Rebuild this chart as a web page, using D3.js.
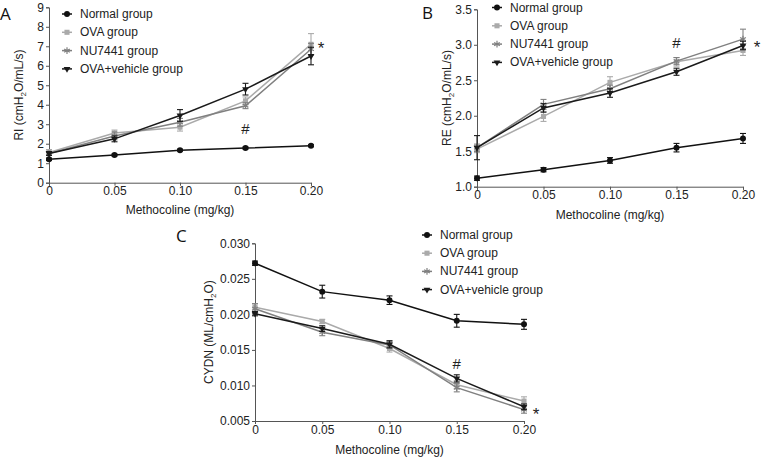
<!DOCTYPE html>
<html>
<head>
<meta charset="utf-8">
<script src="https://cdn.jsdelivr.net/npm/d3@7"></script>
<style>
body { margin: 0; background: #fff; }
text { font-family: "Liberation Sans", Arial, sans-serif; }
</style>
</head>
<body>
<script>
var width = 761, height = 457;
var doses = [0, 0.05, 0.10, 0.15, 0.20];
var doseLabels = ["0", "0.05", "0.10", "0.15", "0.20"];
var groups = ["Normal group", "OVA group", "NU7441 group", "OVA+vehicle group"];

// panel A - RI
var riNormal = [1.2, 1.42, 1.67, 1.78, 1.9];
var riNormalErr = [0.06, 0.05, 0.05, 0.05, 0.05];
var riOva = [1.55, 2.55, 2.85, 4.2, 7.1];
var riOvaErr = [0.15, 0.15, 0.2, 0.2, 0.55];
var riNu = [1.5, 2.4, 3.1, 3.95, 6.85];
var riNuErr = [0.1, 0.2, 0.2, 0.15, 0.3];
var riVeh = [1.5, 2.25, 3.45, 4.8, 6.5];
var riVehErr = [0.1, 0.15, 0.3, 0.3, 0.45];
var riTicks = [0, 1, 2, 3, 4, 5, 6, 7, 8, 9];

// panel B - RE
var reNormal = [1.12, 1.24, 1.37, 1.55, 1.68];
var reNormalErr = [0.03, 0.03, 0.04, 0.06, 0.07];
var reOva = [1.53, 1.99, 2.47, 2.76, 2.92];
var reOvaErr = [0.05, 0.07, 0.08, 0.06, 0.07];
var reNu = [1.55, 2.16, 2.38, 2.77, 3.08];
var reNuErr = [0.05, 0.07, 0.05, 0.05, 0.14];
var reVeh = [1.55, 2.11, 2.32, 2.62, 2.99];
var reVehErr = [0.17, 0.06, 0.06, 0.05, 0.06];
var reTicks = [1.0, 1.5, 2.0, 2.5, 3.0, 3.5];

// panel C - CYDN
var cyNormal = [0.0272, 0.0232, 0.0220, 0.0191, 0.0186];
var cyNormalErr = [0.0003, 0.0009, 0.0006, 0.0009, 0.0007];
var cyOva = [0.0210, 0.0190, 0.0152, 0.0101, 0.0078];
var cyOvaErr = [0.0005, 0.0003, 0.0005, 0.0006, 0.0006];
var cyNu = [0.0208, 0.0175, 0.0157, 0.0097, 0.0066];
var cyNuErr = [0.0007, 0.0005, 0.0005, 0.0006, 0.0005];
var cyVeh = [0.0201, 0.0180, 0.0158, 0.0110, 0.0070];
var cyVehErr = [0.0003, 0.0004, 0.0005, 0.0005, 0.0004];
var cyTicks = [0.005, 0.010, 0.015, 0.020, 0.025, 0.030];

var colors = ["#111", "#aaa", "#808080", "#1a1a1a"];
var symbols = [d3.symbolCircle, d3.symbolSquare, d3.symbolAsterisk, d3.symbolTriangle];

var svg = d3.select("body").append("svg")
    .attr("width", width)
    .attr("height", height);

function marker(g, i, x, y) {
    var sizes = [28, 26, 30, 20];
    var p = g.append("path")
        .attr("d", d3.symbol().type(symbols[i]).size(sizes[i])())
        .attr("transform", "translate(" + x + "," + y + ")" + (i == 3 ? " rotate(180)" : ""));
    if (i == 2) p.attr("fill", "none").attr("stroke", colors[i]).attr("stroke-width", 1.2);
    else p.attr("fill", colors[i]);
}

function panel(o) {
    var g = svg.append("g");
    var x = d3.scaleLinear().domain([0, 0.2]).range(o.xr);
    var y = d3.scaleLinear().domain(o.yd).range(o.yr);

    var ya = g.append("g").attr("transform", "translate(" + o.xr[0] + ",0)")
        .call(d3.axisLeft(y).tickValues(o.yTicks).tickSize(3).tickPadding(2).tickFormat(o.yFmt));
    var xa = g.append("g").attr("transform", "translate(0," + o.yr[0] + ")")
        .call(d3.axisBottom(x).tickValues(doses).tickSize(3).tickPadding(1)
            .tickFormat(function(d, i) { return doseLabels[i]; }));
    [ya, xa].forEach(function(a) {
        a.selectAll("path,line").attr("stroke", "#555");
        a.selectAll("text").attr("font-size", 12).attr("fill", "#222")
            .style("font-family", "'Liberation Sans', Arial, sans-serif");
    });

    var line = d3.line().x(function(d, i) { return x(doses[i]); }).y(function(d) { return y(d); });
    [1, 2, 3, 0].forEach(function(k) {
        var vals = o.series[k], errs = o.errs[k];
        g.append("path").datum(vals).attr("d", line)
            .attr("fill", "none").attr("stroke", colors[k]).attr("stroke-width", 1.5);
        vals.forEach(function(v, i) {
            var cx = x(doses[i]);
            g.append("line").attr("x1", cx).attr("x2", cx)
                .attr("y1", y(v - errs[i])).attr("y2", y(v + errs[i]))
                .attr("stroke", colors[k]).attr("stroke-width", 1.1);
            [v - errs[i], v + errs[i]].forEach(function(e) {
                g.append("line").attr("x1", cx - 3).attr("x2", cx + 3)
                    .attr("y1", y(e)).attr("y2", y(e))
                    .attr("stroke", colors[k]).attr("stroke-width", 1.1);
            });
            marker(g, k, cx, y(v));
        });
    });

    // legend
    groups.forEach(function(name, i) {
        var ly = o.legY + i * o.legGap;
        g.append("line").attr("x1", o.legX - 5).attr("x2", o.legX + 5)
            .attr("y1", ly).attr("y2", ly).attr("stroke", colors[i]).attr("stroke-width", 1.5);
        marker(g, i, o.legX, ly);
        g.append("text").attr("x", o.legX + 13).attr("y", ly + 4)
            .attr("font-size", 12).attr("fill", "#222").text(name);
    });

    // titles
    g.append("text").attr("x", (o.xr[0] + o.xr[1]) / 2).attr("y", o.xTitleY)
        .attr("text-anchor", "middle").attr("font-size", 12).attr("fill", "#222")
        .text("Methocoline (mg/kg)");
    var yt = g.append("text")
        .attr("transform", "translate(" + o.yTitleX + "," + ((o.yr[0] + o.yr[1]) / 2) + ") rotate(-90)")
        .attr("text-anchor", "middle").attr("font-size", 12).attr("fill", "#222");
    yt.append("tspan").text(o.yTitle[0]);
    yt.append("tspan").attr("font-size", 8).attr("dy", 3).text("2");
    yt.append("tspan").attr("dy", -3).text(o.yTitle[1]);

    g.append("text").attr("x", o.label[1]).attr("y", o.label[2])
        .attr("font-size", 17).attr("fill", "#111")
        .style("font-family", "'Open Sans', 'DejaVu Sans', sans-serif").text(o.label[0]);

    o.marks.forEach(function(m) {
        g.append("text").attr("x", x(m[1]) + m[3]).attr("y", y(m[2]))
            .attr("text-anchor", "middle").attr("font-size", m[0] == "*" ? 17 : 15).attr("fill", "#222")
            .text(m[0]);
    });
}

panel({
    xr: [49, 311], yd: [0, 9], yr: [182.7, 7.3], yTicks: riTicks, yFmt: d3.format("d"),
    series: [riNormal, riOva, riNu, riVeh], errs: [riNormalErr, riOvaErr, riNuErr, riVehErr],
    legX: 67, legY: 14, legGap: 18.3, xTitleY: 214, yTitleX: 23,
    yTitle: ["RI (cmH", "O/mL/s)"], label: ["A", 0, 20],
    marks: [["*", 0.2, 6.6, 10], ["#", 0.15, 2.5, 0]]
});

panel({
    xr: [477, 743], yd: [1, 3.5], yr: [186.7, 9.3], yTicks: reTicks, yFmt: d3.format(".1f"),
    series: [reNormal, reOva, reNu, reVeh], errs: [reNormalErr, reOvaErr, reNuErr, reVehErr],
    legX: 497, legY: 7.5, legGap: 18.3, xTitleY: 219, yTitleX: 451,
    yTitle: ["RE (cmH", "O/mL/s)"], label: ["B", 422, 19],
    marks: [["*", 0.2, 2.88, 14], ["#", 0.15, 2.95, 0]]
});

panel({
    xr: [255, 524], yd: [0.005, 0.03], yr: [421, 243.3], yTicks: cyTicks, yFmt: d3.format(".3f"),
    series: [cyNormal, cyOva, cyNu, cyVeh], errs: [cyNormalErr, cyOvaErr, cyNuErr, cyVehErr],
    legX: 427, legY: 235, legGap: 18.2, xTitleY: 454, yTitleX: 213,
    yTitle: ["CYDN (ML/cmH", "O)"], label: ["C", 176, 242],
    marks: [["*", 0.2, 0.0052, 12], ["#", 0.15, 0.0123, 0]]
});
</script>
</body>
</html>
